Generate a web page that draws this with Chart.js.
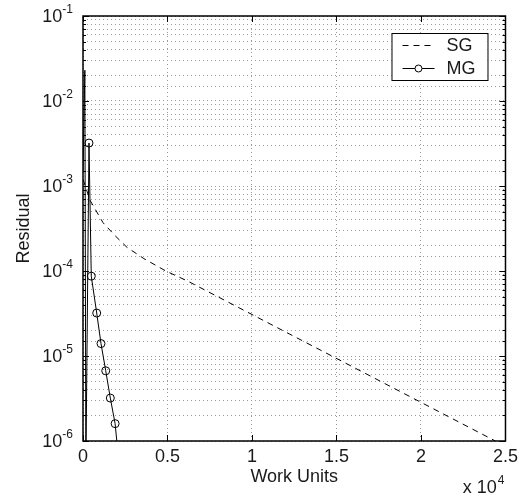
<!DOCTYPE html>
<html>
<head>
<meta charset="utf-8">
<script src="https://cdn.jsdelivr.net/npm/chart.js@4/dist/chart.umd.min.js"></script>
<style>
  html, body { margin: 0; padding: 0; background: #fff; }
  #wrap { width: 523px; height: 496px; }
</style>
</head>
<body>
<div id="wrap"><canvas id="c" width="523" height="496"></canvas></div>
<script>
// Single-grid smoother (SG): residual against work units
const sgWork     = [0,       415,    1185,   1900,   2600,   3600,   4900,   6200,   24400];
const sgResidual = [1.2e-3,  6.8e-4, 3.7e-4, 2.6e-4, 1.9e-4, 1.4e-4, 1.0e-4, 7.6e-5, 1.0e-6];

// Multigrid (MG): residual against work units; marked = sampled cycles shown with a circle
const mgWork     = [0,      110,    170,    355,    490,    811,    1066,   1345,   1617,   1900,   2150];
const mgResidual = [1.5e-3, 2.3e-2, 5.0e-7, 3.2e-3, 8.7e-5, 3.2e-5, 1.4e-5, 6.7e-6, 3.2e-6, 1.6e-6, 5.0e-7];
const mgMarked   = [false,  false,  false,  true,   true,   true,   true,   true,   true,   true,   false];

// Axis labels
const xTickLabels = ['0', '0.5', '1', '1.5', '2', '2.5'];
const yTickExponents = [-1, -2, -3, -4, -5, -6];
const xScaleExponent = '4';

const FONT = '"Liberation Sans", Arial, Helvetica, sans-serif';
const TEXT = '#1a1a1a';
const GRID = '#9a9a9a';

function toPoints(xs, ys) { return xs.map((x, i) => ({ x: x, y: ys[i] })); }

function isDecade(v) {
  const l = Math.log10(v);
  return Math.abs(l - Math.round(l)) < 1e-9;
}

// Box, inward tick marks, exponent labels and the legend box
const framePlugin = {
  id: 'frame',
  afterDatasetsDraw(chart) {
    const { ctx, chartArea: a, scales } = chart;
    const x = scales.x, y = scales.y;
    ctx.save();
    ctx.strokeStyle = '#000';
    ctx.lineWidth = 1;
    ctx.beginPath();
    y.ticks.forEach(t => {
      const py = Math.round(y.getPixelForValue(t.value)) + 0.5;
      const len = isDecade(t.value) ? 6 : 3;
      ctx.moveTo(a.left, py); ctx.lineTo(a.left + len, py);
      ctx.moveTo(a.right, py); ctx.lineTo(a.right - len, py);
    });
    x.ticks.forEach(t => {
      const px = Math.round(x.getPixelForValue(t.value)) + 0.5;
      ctx.moveTo(px, a.bottom); ctx.lineTo(px, a.bottom - 6);
      ctx.moveTo(px, a.top); ctx.lineTo(px, a.top + 6);
    });
    ctx.stroke();

    ctx.lineWidth = 1.5;
    ctx.strokeRect(a.left, a.top, a.right - a.left, a.bottom - a.top);

    // y tick labels: 10 with a raised exponent
    ctx.fillStyle = TEXT;
    ctx.textBaseline = 'middle';
    yTickExponents.forEach(e => {
      const py = y.getPixelForValue(Math.pow(10, e));
      const sup = String(e);
      ctx.font = '12px ' + FONT;
      const supW = ctx.measureText(sup).width;
      const end = a.left - 10;
      ctx.textAlign = 'left';
      ctx.fillText(sup, end - supW, py - 6);
      ctx.font = '18px ' + FONT;
      ctx.textAlign = 'right';
      ctx.fillText('10', end - supW, py + 1);
    });

    // x scale multiplier
    ctx.font = '12px ' + FONT;
    const supW = ctx.measureText(xScaleExponent).width;
    ctx.textAlign = 'left';
    ctx.fillText(xScaleExponent, a.right - supW - 1, 481);
    ctx.font = '18px ' + FONT;
    ctx.textAlign = 'right';
    ctx.fillText('x 10', a.right - supW - 2, 488);

    // legend
    const bx = a.right - 114, by = a.top + 17, bw = 96, bh = 47;
    ctx.fillStyle = '#fff';
    ctx.fillRect(bx, by, bw, bh);
    ctx.lineWidth = 1;
    ctx.strokeStyle = '#000';
    ctx.strokeRect(bx + 0.5, by + 0.5, bw, bh);
    chart.data.datasets.forEach((ds, i) => {
      const ry = by + 12 + i * 23;
      ctx.save();
      ctx.strokeStyle = ds.borderColor;
      ctx.lineWidth = ds.borderWidth;
      ctx.setLineDash(ds.borderDash || []);
      ctx.beginPath();
      ctx.moveTo(bx + 11, ry + 0.5); ctx.lineTo(bx + 43, ry + 0.5);
      ctx.stroke();
      ctx.setLineDash([]);
      if (ds.legendMarker) {
        ctx.fillStyle = '#fff';
        ctx.beginPath();
        ctx.arc(bx + 27, ry + 0.5, 3.5, 0, Math.PI * 2);
        ctx.fill(); ctx.stroke();
      }
      ctx.restore();
      ctx.fillStyle = TEXT;
      ctx.font = '18px ' + FONT;
      ctx.textAlign = 'left';
      ctx.textBaseline = 'middle';
      ctx.fillText(ds.label, bx + 55, ry + 1);
    });
    ctx.restore();
  }
};

new Chart(document.getElementById('c'), {
  type: 'line',
  data: {
    datasets: [
      {
        label: 'SG',
        data: toPoints(sgWork, sgResidual),
        borderColor: '#000',
        borderWidth: 1,
        borderDash: [6, 5],
        pointRadius: 0,
        tension: 0,
        fill: false
      },
      {
        label: 'MG',
        data: toPoints(mgWork, mgResidual),
        borderColor: '#000',
        borderWidth: 1,
        pointRadius: ctx => mgMarked[ctx.dataIndex] ? 4 : 0,
        pointBorderColor: '#000',
        pointBackgroundColor: 'rgba(0,0,0,0)',
        pointBorderWidth: 1,
        legendMarker: true,
        tension: 0,
        fill: false
      }
    ]
  },
  options: {
    responsive: false,
    animation: false,
    devicePixelRatio: 1,
    layout: { padding: { top: 16, right: 17, left: 0, bottom: 0 } },
    plugins: { legend: { display: false }, tooltip: { enabled: false } },
    scales: {
      x: {
        type: 'linear',
        min: 0,
        max: 25000,
        ticks: {
          stepSize: 5000,
          autoSkip: false,
          maxRotation: 0,
          padding: 5,
          color: TEXT,
          font: { family: FONT, size: 18 },
          callback: (v, i) => xTickLabels[i]
        },
        grid: { color: GRID, lineWidth: 1, drawTicks: false },
        border: { display: false, dash: [1, 3] },
        title: {
          display: true,
          text: 'Work Units',
          color: TEXT,
          font: { family: FONT, size: 18 },
          padding: { top: 0, bottom: 8 }
        },
        afterFit: s => { s.height = 55; }
      },
      y: {
        type: 'logarithmic',
        min: 1e-6,
        max: 1e-1,
        ticks: { display: false },
        grid: { color: GRID, lineWidth: 1, drawTicks: false },
        border: { display: false, dash: [1, 3] },
        title: {
          display: true,
          text: 'Residual',
          color: TEXT,
          font: { family: FONT, size: 18 },
          padding: { top: 13, bottom: 0 }
        },
        afterFit: s => { s.width = 83; }
      }
    }
  },
  plugins: [framePlugin]
});
</script>
</body>
</html>
